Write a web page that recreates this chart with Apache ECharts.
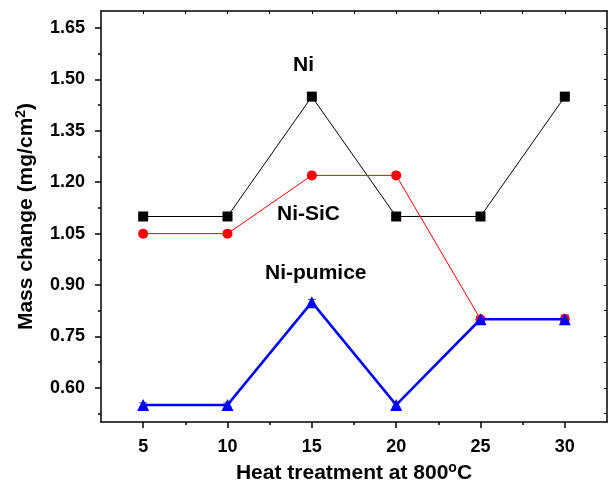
<!DOCTYPE html>
<html>
<head>
<meta charset="utf-8">
<script src="https://cdn.jsdelivr.net/npm/echarts@6/dist/echarts.min.js"></script>
<style>
  html, body { margin: 0; padding: 0; background: #fff; }
  #chart { width: 609px; height: 485px; }
</style>
</head>
<body>
<div id="chart"></div>
<script>
// heat treatment time values (x)
const xValues = [5, 10, 15, 20, 25, 30];
// mass change, mg/cm2
const niData = [1.10, 1.10, 1.45, 1.10, 1.10, 1.45];
const niSicData = [1.05, 1.05, 1.22, 1.22, 0.80, 0.80];
const niPumiceData = [0.55, 0.55, 0.85, 0.55, 0.80, 0.80];
// error bars (half width)
const niErr = [0.004, 0.004, 0.006, 0.004, 0.004, 0.012];
const niSicErr = [0.004, 0.004, 0.006, 0.006, 0.008, 0.012];
const niPumiceErr = [0.006, 0.006, 0.008, 0.006, 0.008, 0.012];
// ticks
const xMajorTicks = [5, 10, 15, 20, 25, 30];
const xMinorTicks = [7.5, 12.5, 17.5, 22.5, 27.5];
const yMajorTicks = [0.60, 0.75, 0.90, 1.05, 1.20, 1.35, 1.50, 1.65];
const yMinorTicks = [0.525, 0.675, 0.825, 0.975, 1.125, 1.275, 1.425, 1.575];

const FONT = 'Liberation Sans, Arial, Helvetica, sans-serif';

const chart = echarts.init(document.getElementById('chart'));

function pairs(vals) {
  return xValues.map((x, i) => [x, vals[i]]);
}
function errPairs(vals, errs) {
  return xValues.map((x, i) => [x, vals[i] - errs[i], vals[i] + errs[i]]);
}
function errorSeries(vals, errs, color) {
  return {
    type: 'custom',
    xAxisIndex: 0,
    yAxisIndex: 0,
    data: errPairs(vals, errs),
    z: 1,
    renderItem: function (params, api) {
      const lo = api.coord([api.value(0), api.value(1)]);
      const hi = api.coord([api.value(0), api.value(2)]);
      const w = 4;
      const st = { stroke: color, lineWidth: 1 };
      return {
        type: 'group',
        children: [
          { type: 'line', shape: { x1: lo[0], y1: lo[1], x2: hi[0], y2: hi[1] }, style: st },
          { type: 'line', shape: { x1: lo[0] - w, y1: lo[1], x2: lo[0] + w, y2: lo[1] }, style: st },
          { type: 'line', shape: { x1: hi[0] - w, y1: hi[1], x2: hi[0] + w, y2: hi[1] }, style: st }
        ]
      };
    }
  };
}

const axisLineStyle = { color: '#000', width: 1.5 };

const option = {
  backgroundColor: '#fff',
  animation: false,
  grid: { left: 101, top: 11, right: 2, bottom: 63, containLabel: false, outerBoundsMode: 'none' },
  xAxis: [
    {
      type: 'value', position: 'bottom', min: 2.5, max: 32.5,
      splitLine: { show: false },
      axisLine: { lineStyle: axisLineStyle },
      axisTick: { customValues: xMajorTicks, length: 6, lineStyle: { color: '#000', width: 1.5 } },
      axisLabel: { customValues: xMajorTicks, color: '#000', fontFamily: FONT, fontWeight: 'bold', fontSize: 18, margin: 16 },
      name: '{a|Heat treatment at 800}{s|o}{a|C}',
      nameLocation: 'middle',
      nameGap: 39,
      nameTextStyle: {
        rich: {
          a: { fontFamily: FONT, fontWeight: 'bold', fontSize: 21, color: '#000', lineHeight: 24 },
          s: { fontFamily: FONT, fontWeight: 'bold', fontSize: 14, color: '#000', lineHeight: 24, verticalAlign: 'top', padding: [0, 0, 10, 0] }
        }
      }
    },
    {
      type: 'value', position: 'bottom', min: 2.5, max: 32.5,
      splitLine: { show: false },
      axisLine: { show: false },
      axisTick: { customValues: xMinorTicks, length: 3, lineStyle: { color: '#000', width: 1.5 } },
      axisLabel: { show: false }
    },
    {
      type: 'value', position: 'top', min: 2.5, max: 32.5,
      splitLine: { show: false },
      axisLine: { lineStyle: axisLineStyle },
      axisTick: { inside: true, customValues: xMajorTicks.concat(xMinorTicks), length: 3, lineStyle: { color: '#000', width: 1 } },
      axisLabel: { show: false }
    }
  ],
  yAxis: [
    {
      type: 'value', position: 'left', min: 0.5, max: 1.7,
      splitLine: { show: false },
      axisLine: { lineStyle: axisLineStyle },
      axisTick: { customValues: yMajorTicks, length: 6, lineStyle: { color: '#000', width: 1.5 } },
      axisLabel: {
        customValues: yMajorTicks, color: '#000', fontFamily: FONT, fontWeight: 'bold', fontSize: 18, margin: 16,
        formatter: v => v.toFixed(2)
      },
      name: '{a|Mass change (mg/cm}{s|2}{a|)}',
      nameLocation: 'middle',
      nameGap: 63,
      nameTextStyle: {
        rich: {
          a: { fontFamily: FONT, fontWeight: 'bold', fontSize: 21, color: '#000', lineHeight: 24 },
          s: { fontFamily: FONT, fontWeight: 'bold', fontSize: 14, color: '#000', lineHeight: 24, verticalAlign: 'top', padding: [0, 0, 10, 0] }
        }
      }
    },
    {
      type: 'value', position: 'left', min: 0.5, max: 1.7,
      splitLine: { show: false },
      axisLine: { show: false },
      axisTick: { customValues: yMinorTicks, length: 3, lineStyle: { color: '#000', width: 1.5 } },
      axisLabel: { show: false }
    },
    {
      type: 'value', position: 'right', min: 0.5, max: 1.7,
      splitLine: { show: false },
      axisLine: { lineStyle: axisLineStyle },
      axisTick: { inside: true, customValues: yMajorTicks.concat(yMinorTicks), length: 3, lineStyle: { color: '#000', width: 1 } },
      axisLabel: { show: false }
    }
  ],
  series: [
    errorSeries(niData, niErr, '#555'),
    {
      name: 'Ni', type: 'line', xAxisIndex: 0, yAxisIndex: 0,
      data: pairs(niData),
      symbol: 'rect', symbolSize: 10,
      itemStyle: { color: '#000' },
      lineStyle: { color: '#000', width: 1 },
      z: 2
    },
    errorSeries(niSicData, niSicErr, '#d00'),
    {
      name: 'Ni-SiC', type: 'line', xAxisIndex: 0, yAxisIndex: 0,
      data: pairs(niSicData),
      symbol: 'circle', symbolSize: 10,
      itemStyle: { color: '#ff0000' },
      lineStyle: { color: '#ff0000', width: 1 },
      z: 3
    },
    errorSeries(niPumiceData, niPumiceErr, '#4040ff'),
    {
      name: 'Ni-pumice', type: 'line', xAxisIndex: 0, yAxisIndex: 0,
      data: pairs(niPumiceData),
      symbol: 'triangle', symbolSize: 12,
      itemStyle: { color: '#0000ff' },
      lineStyle: { color: '#0000ff', width: 2.5 },
      z: 4
    }
  ],
  graphic: [
    { type: 'text', left: 293, top: 55, style: { text: 'Ni', font: 'bold 21px ' + FONT, fill: '#000' } },
    { type: 'text', left: 277, top: 204, style: { text: 'Ni-SiC', font: 'bold 21px ' + FONT, fill: '#000' } },
    { type: 'text', left: 265, top: 263, style: { text: 'Ni-pumice', font: 'bold 21px ' + FONT, fill: '#000' } }
  ]
};

chart.setOption(option);
</script>
</body>
</html>
